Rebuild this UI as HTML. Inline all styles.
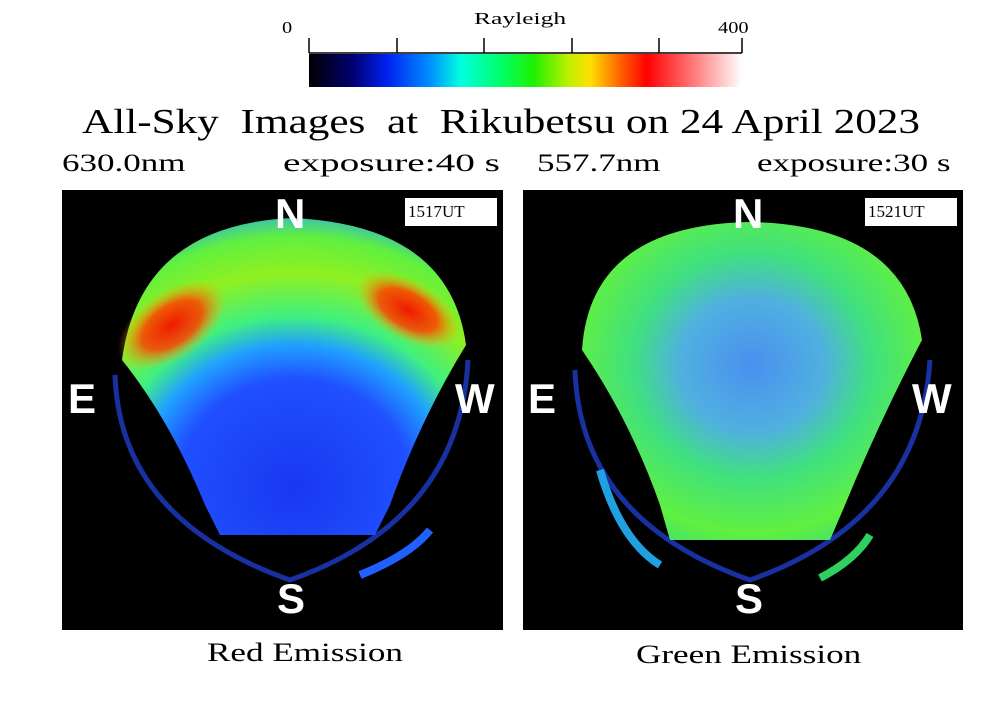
<!DOCTYPE html>
<html><head><style>
body{margin:0;width:1006px;height:710px;background:#fff;overflow:hidden;position:relative;font-family:"Liberation Serif",serif}
.t{position:absolute;white-space:nowrap;color:#000;transform-origin:0 0}
</style></head><body>
<svg width="1006" height="710" style="position:absolute;left:0;top:0">
<defs>
<linearGradient id="cb" x1="0" x2="1">
<stop offset="0" stop-color="#000"/>
<stop offset="0.1" stop-color="#000070"/>
<stop offset="0.18" stop-color="#0020f0"/>
<stop offset="0.28" stop-color="#0090ff"/>
<stop offset="0.35" stop-color="#00ffe0"/>
<stop offset="0.45" stop-color="#00ff60"/>
<stop offset="0.52" stop-color="#20f000"/>
<stop offset="0.6" stop-color="#c0f000"/>
<stop offset="0.65" stop-color="#ffe000"/>
<stop offset="0.72" stop-color="#ff6000"/>
<stop offset="0.78" stop-color="#ff0000"/>
<stop offset="0.88" stop-color="#ff7070"/>
<stop offset="1" stop-color="#ffffff"/>
</linearGradient>
<radialGradient id="lsky" cx="0.5" cy="0.85" r="0.9">
<stop offset="0" stop-color="#1838f0"/>
<stop offset="0.38" stop-color="#2050ff"/>
<stop offset="0.5" stop-color="#20a0ff"/>
<stop offset="0.6" stop-color="#40f080"/>
<stop offset="0.75" stop-color="#90f020"/>
<stop offset="0.88" stop-color="#60f040"/>
<stop offset="1" stop-color="#20a0ff"/>
</radialGradient>
<radialGradient id="rsky" cx="0.5" cy="0.45" r="0.7">
<stop offset="0" stop-color="#4a90f0"/>
<stop offset="0.3" stop-color="#50b0e0"/>
<stop offset="0.5" stop-color="#40e080"/>
<stop offset="0.75" stop-color="#60f040"/>
<stop offset="0.9" stop-color="#40e070"/>
<stop offset="1" stop-color="#20a0ff"/>
</radialGradient>
<radialGradient id="red" cx="0.5" cy="0.5" r="0.5">
<stop offset="0" stop-color="#f01800"/>
<stop offset="0.55" stop-color="#ff4000" stop-opacity="0.85"/>
<stop offset="1" stop-color="#ffb000" stop-opacity="0"/>
</radialGradient>
</defs>
<line x1="309" y1="53" x2="742" y2="53" stroke="#000" stroke-width="1.5"/>
<g stroke="#000" stroke-width="1.5">
<line x1="309" y1="38" x2="309" y2="53"/><line x1="397" y1="38" x2="397" y2="53"/><line x1="484" y1="38" x2="484" y2="53"/><line x1="572" y1="38" x2="572" y2="53"/><line x1="659" y1="38" x2="659" y2="53"/><line x1="742" y1="38" x2="742" y2="53"/>
</g>
<rect x="309" y="54" width="433" height="33" fill="url(#cb)"/>

<rect x="62" y="190" width="441" height="440" fill="#000"/>
<path d="M115,375 Q120,520 290,580 Q460,520 468,360" fill="none" stroke="#1830a0" stroke-width="5"/>
<path d="M122,360 Q140,225 292,218 Q450,225 466,345 Q420,420 390,505 L375,535 L220,535 L205,505 Q170,420 122,360Z" fill="url(#lsky)"/>
<ellipse cx="172" cy="325" rx="62" ry="34" fill="url(#red)" transform="rotate(-35 172 325)"/>
<ellipse cx="408" cy="310" rx="58" ry="30" fill="url(#red)" transform="rotate(30 408 310)"/>
<path d="M360,575 Q410,555 430,530" stroke="#2060ff" stroke-width="8" fill="none"/>
<rect x="405" y="198" width="92" height="28" fill="#fff"/>

<rect x="523" y="190" width="440" height="440" fill="#000"/>
<path d="M575,370 Q580,520 750,580 Q920,520 930,360" fill="none" stroke="#1830a0" stroke-width="5"/>
<path d="M582,350 Q590,225 750,222 Q905,225 922,340 Q880,420 845,505 L830,540 L670,540 L660,505 Q630,420 582,350Z" fill="url(#rsky)"/>
<path d="M820,578 Q855,560 870,535" stroke="#30d060" stroke-width="8" fill="none"/>
<path d="M600,470 Q620,540 660,565" stroke="#20a0e0" stroke-width="8" fill="none"/>
<rect x="865" y="198" width="92" height="28" fill="#fff"/>
</svg>
<div class="t" style="left:282px;top:18px;font-size:17px;transform:scaleX(1.2)">0</div>
<div class="t" style="left:474px;top:9px;font-size:17px;transform:scaleX(1.5)">Rayleigh</div>
<div class="t" style="left:718px;top:18px;font-size:17px;transform:scaleX(1.2)">400</div>
<div class="t" style="left:82px;top:102px;font-size:35px;transform:scaleX(1.235)">All-Sky&nbsp; Images&nbsp; at&nbsp; Rikubetsu on 24 April 2023</div>
<div class="t" style="left:62px;top:150px;font-size:25px;transform:scaleX(1.4)">630.0nm</div>
<div class="t" style="left:283px;top:150px;font-size:25px;transform:scaleX(1.57)">exposure:40 s</div>
<div class="t" style="left:537px;top:150px;font-size:25px;transform:scaleX(1.4)">557.7nm</div>
<div class="t" style="left:757px;top:150px;font-size:25px;transform:scaleX(1.4)">exposure:30 s</div>
<div class="t" style="left:408px;top:202px;font-size:17px">1517UT</div>
<div class="t" style="left:868px;top:202px;font-size:17px">1521UT</div>
<div class="t" style="left:275px;top:190px;font:bold 42px 'Liberation Sans',sans-serif;color:#fff">N</div>
<div class="t" style="left:68px;top:375px;font:bold 42px 'Liberation Sans',sans-serif;color:#fff">E</div>
<div class="t" style="left:455px;top:375px;font:bold 42px 'Liberation Sans',sans-serif;color:#fff">W</div>
<div class="t" style="left:277px;top:575px;font:bold 42px 'Liberation Sans',sans-serif;color:#fff">S</div>
<div class="t" style="left:733px;top:190px;font:bold 42px 'Liberation Sans',sans-serif;color:#fff">N</div>
<div class="t" style="left:528px;top:375px;font:bold 42px 'Liberation Sans',sans-serif;color:#fff">E</div>
<div class="t" style="left:912px;top:375px;font:bold 42px 'Liberation Sans',sans-serif;color:#fff">W</div>
<div class="t" style="left:735px;top:575px;font:bold 42px 'Liberation Sans',sans-serif;color:#fff">S</div>
<div class="t" style="left:207px;top:638px;font-size:26px;transform:scaleX(1.35)">Red Emission</div>
<div class="t" style="left:636px;top:640px;font-size:26px;transform:scaleX(1.35)">Green Emission</div>
</body></html>
